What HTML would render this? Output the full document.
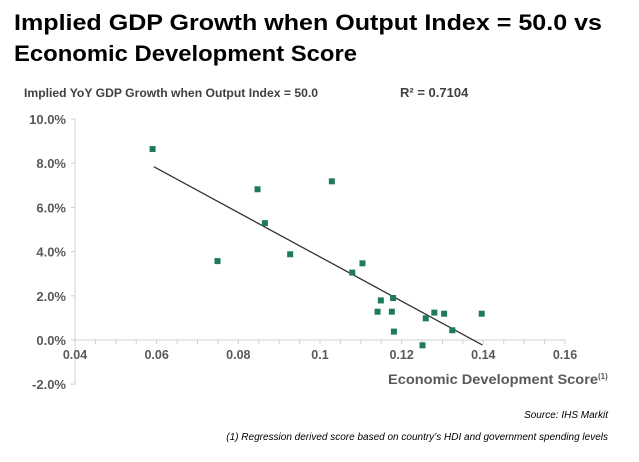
<!DOCTYPE html>
<html><head><meta charset="utf-8"><style>
body{margin:0;background:#fff;width:639px;height:457px;overflow:hidden;font-family:"Liberation Sans",Arial,sans-serif}
</style></head><body>
<svg width="639" height="457" font-family="Liberation Sans, Arial, sans-serif">
<text x="14" y="30" font-size="22" font-weight="bold" fill="#000" textLength="588" lengthAdjust="spacingAndGlyphs">Implied GDP Growth when Output Index = 50.0 vs</text>
<text x="14" y="61" font-size="22" font-weight="bold" fill="#000" textLength="343" lengthAdjust="spacingAndGlyphs">Economic Development Score</text>
<text x="24" y="97" font-size="11.5" font-weight="bold" fill="#404040" textLength="294" lengthAdjust="spacingAndGlyphs">Implied YoY GDP Growth when Output Index = 50.0</text>
<text x="400" y="97" font-size="13" font-weight="bold" fill="#404040">R² = 0.7104</text>
<g id="axes"></g>
<g id="marks"></g>
<text x="388" y="384" font-size="14" font-weight="bold" fill="#595959"><tspan textLength="210" lengthAdjust="spacingAndGlyphs">Economic Development Score</tspan><tspan font-size="8" dy="-5">(1)</tspan></text>
<text x="608" y="418" font-size="10" font-style="italic" fill="#000" text-anchor="end">Source: IHS Markit</text>
<text x="608" y="440" font-size="10" font-style="italic" fill="#000" text-anchor="end">(1) Regression derived score based on country’s HDI and government spending levels</text>
</svg>
<script>
const xVals=[0.059,0.0749,0.0847,0.0865,0.0927,0.1029,0.1079,0.1104,0.1141,0.1149,0.1176,0.1179,0.1181,0.1251,0.1259,0.1280,0.1304,0.1324,0.1396];
const yVals=[8.64,3.57,6.82,5.29,3.88,7.18,3.05,3.47,1.28,1.79,1.28,1.90,0.38,-0.24,0.98,1.24,1.19,0.44,1.19];
const xTicks=[0.04,0.06,0.08,0.1,0.12,0.14,0.16];
const xTickLabels=["0.04","0.06","0.08","0.1","0.12","0.14","0.16"];
const yTicks=[10,8,6,4,2,0,-2];
const yTickLabels=["10.0%","8.0%","6.0%","4.0%","2.0%","0.0%","-2.0%"];
const trendX=[0.0593,0.1398];
const trendY=[7.84,-0.23];
const NS='http://www.w3.org/2000/svg';
const sx=v=>75+(v-0.04)*490/0.12;
const sy=v=>340-v*22.1;
const ax=document.getElementById('axes'),mk=document.getElementById('marks');
function mkEl(t,a,p){const e=document.createElementNS(NS,t);for(const k in a)e.setAttribute(k,a[k]);p.appendChild(e);return e;}
let l=mkEl('line',{x1:75,x2:75,y1:sy(10),y2:sy(-2),stroke:'#d0d0d0'},ax);


l=mkEl('line',{x1:sx(0.04),x2:sx(0.16),y1:sy(0),y2:sy(0),stroke:'#d0d0d0'},ax);


for(let v=0.04;v<=0.1601;v+=0.005){mkEl('line',{x1:sx(v),x2:sx(v),y1:sy(0),y2:sy(0)+4,stroke:'#d0d0d0'},ax);}
yTicks.forEach((v,i)=>{mkEl('line',{x1:71,x2:75,y1:sy(v),y2:sy(v),stroke:'#d0d0d0'},ax);
const t=mkEl('text',{x:66,y:sy(v)+5,'text-anchor':'end','font-size':13,'font-weight':'bold',fill:'#595959'},ax);t.textContent=yTickLabels[i];

});
xTicks.forEach((v,i)=>{const t=mkEl('text',{x:sx(v),y:sy(0)+19,'text-anchor':'middle','font-size':12.5,'font-weight':'bold',fill:'#595959'},ax);t.textContent=xTickLabels[i];

});
const tl=mkEl('line',{x1:sx(trendX[0]),y1:sy(trendY[0]),x2:sx(trendX[1]),y2:sy(trendY[1]),stroke:'#333','stroke-width':1.3},mk);


xVals.forEach((x,i)=>{const r=mkEl('rect',{x:sx(x)-3,y:sy(yVals[i])-3,width:6,height:6,fill:'#1f7a5c'},mk);

});
</script>
</body></html>
